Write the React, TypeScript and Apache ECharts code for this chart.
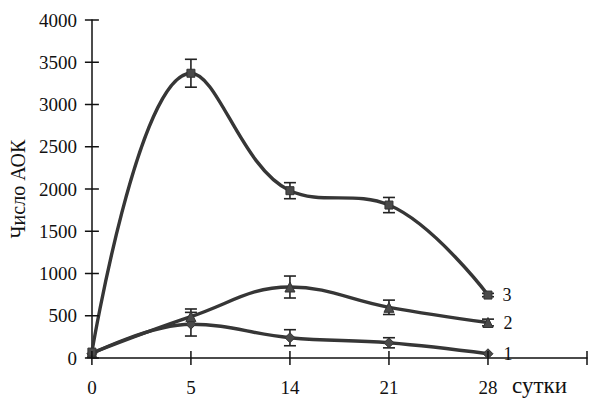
import React, { useEffect, useRef } from "react";
import * as echarts from "echarts";

const categories = ["0", "5", "14", "21", "28", ""];
const yTickValues = [0, 500, 1000, 1500, 2000, 2500, 3000, 3500, 4000];
const series1 = [50, 400, 240, 180, 50];
const series2 = [60, 490, 840, 600, 420];
const series3 = [70, 3370, 1980, 1810, 745];
const err1 = [0, 140, 95, 60, 0];
const err2 = [0, 90, 130, 85, 40];
const err3 = [0, 165, 95, 90, 20];
const seriesNames = ["1", "2", "3"];
const xUnit = "сутки";
const yName = "Число АОК";

const FONT = "'Liberation Serif', 'Times New Roman', serif";
const TICK = 7;

function errData(vals: number[], errs: number[]) {
  return vals
    .map((v, i) => [i, v - errs[i], v + errs[i]])
    .filter((_, i) => errs[i] > 0);
}

function errSeries(vals: number[], errs: number[]) {
  return {
    type: "custom",
    z: 1,
    data: errData(vals, errs),
    renderItem: (params: any, api: any) => {
      const x = api.value(0);
      const lo = api.coord([x, api.value(1)]);
      const hi = api.coord([x, api.value(2)]);
      const w = 6;
      const style = { stroke: "#222", lineWidth: 1.6 };
      return {
        type: "group",
        children: [
          { type: "line", shape: { x1: lo[0], y1: lo[1], x2: hi[0], y2: hi[1] }, style },
          { type: "line", shape: { x1: lo[0] - w, y1: lo[1], x2: lo[0] + w, y2: lo[1] }, style },
          { type: "line", shape: { x1: hi[0] - w, y1: hi[1], x2: hi[0] + w, y2: hi[1] }, style },
        ],
      };
    },
  };
}

// cross-shaped tick marks on both axes (through the axis line)
const tickSeries = [
  {
    type: "custom",
    z: 5,
    clip: false,
    silent: true,
    data: yTickValues.map((v) => [0, v]),
    renderItem: (params: any, api: any) => {
      const p = api.coord([0, api.value(1)]);
      return {
        type: "line",
        shape: { x1: p[0] - TICK, y1: p[1], x2: p[0] + TICK, y2: p[1] },
        style: { stroke: "#111", lineWidth: 1.5 },
      };
    },
  },
  {
    type: "custom",
    z: 5,
    clip: false,
    silent: true,
    data: categories.map((_, i) => [i, 0]),
    renderItem: (params: any, api: any) => {
      const p = api.coord([api.value(0), 0]);
      return {
        type: "line",
        shape: { x1: p[0], y1: p[1] - TICK, x2: p[0], y2: p[1] + TICK },
        style: { stroke: "#111", lineWidth: 1.5 },
      };
    },
  },
];

function lineSeries(name: string, vals: number[], symbol: string, size: number) {
  return {
    type: "line",
    name,
    z: 3,
    smooth: 0.4,
    symbol,
    symbolSize: size,
    showAllSymbol: true,
    lineStyle: { color: "#363636", width: 3.4 },
    itemStyle: { color: "#4a4a4a", borderColor: "#333", borderWidth: 1 },
    data: vals.map((v, i) =>
      i === vals.length - 1
        ? {
            value: v,
            label: {
              show: true,
              position: "right",
              distance: 10,
              formatter: name,
              fontFamily: FONT,
              fontSize: 18,
              color: "#111",
            },
          }
        : v
    ),
  };
}

export default function App() {
  const ref = useRef<HTMLDivElement>(null);
  useEffect(() => {
    if (!ref.current) return;
    const chart = echarts.init(ref.current, undefined, { renderer: "svg" });
    chart.setOption({
      animation: false,
      backgroundColor: "#fff",
      grid: { left: 90, right: 2, top: 20, bottom: 42, containLabel: false },
      xAxis: {
        type: "category",
        data: categories,
        boundaryGap: false,
        axisLine: { lineStyle: { color: "#111", width: 1.5 } },
        axisTick: { show: false },
        axisLabel: { margin: 20, fontFamily: FONT, fontSize: 19, color: "#111", interval: 0 },
        splitLine: { show: false },
      },
      yAxis: {
        type: "value",
        min: 0,
        max: 4000,
        interval: 500,
        name: yName,
        nameLocation: "middle",
        nameRotate: 90,
        nameGap: 60,
        nameTextStyle: { fontFamily: FONT, fontSize: 20, color: "#111" },
        axisLine: { show: true, lineStyle: { color: "#111", width: 1.5 } },
        axisTick: { show: false },
        axisLabel: {
          margin: 15,
          fontFamily: FONT,
          fontSize: 19,
          color: "#111",
          formatter: (v: number) => String(v),
        },
        splitLine: { show: false },
      },
      graphic: [
        {
          type: "text",
          left: 512,
          top: 374,
          style: { text: xUnit, font: `23px ${FONT}`, fill: "#111" },
        },
      ],
      series: [
        ...tickSeries,
        errSeries(series1, err1),
        errSeries(series2, err2),
        errSeries(series3, err3),
        lineSeries(seriesNames[0], series1, "diamond", 10),
        lineSeries(seriesNames[1], series2, "triangle", 10),
        lineSeries(seriesNames[2], series3, "rect", 8),
      ],
    });
    return () => chart.dispose();
  }, []);
  return (
    <div
      ref={ref}
      style={{ position: "absolute", left: 0, top: 0, width: 590, height: 400 }}
    />
  );
}
